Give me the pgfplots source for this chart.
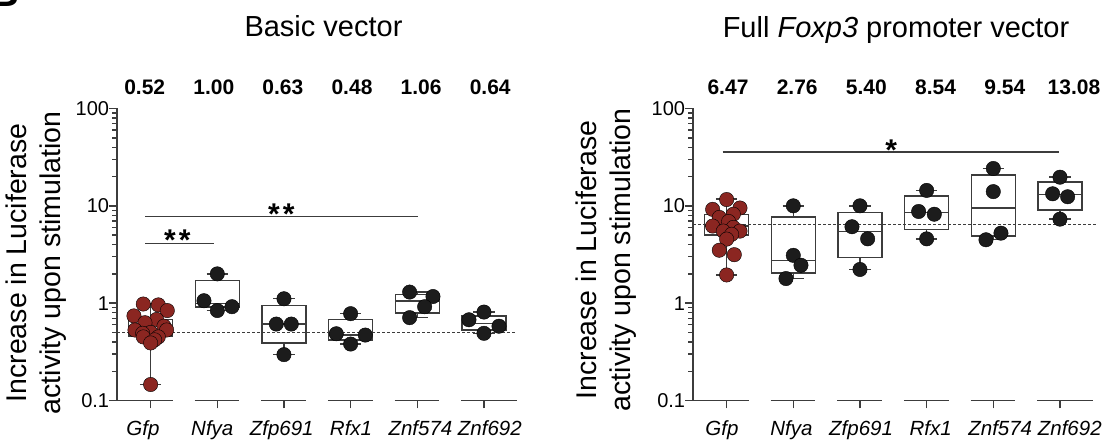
\documentclass[border=0pt]{standalone}
\usepackage{fontspec}
\setmainfont{Liberation Sans}
\usepackage{pgfplots}
\pgfplotsset{compat=1.18}
\definecolor{axisgray}{RGB}{60,60,60}
\definecolor{gfpred}{RGB}{139,38,33}
\definecolor{dotblack}{RGB}{28,28,28}

\pgfplotsset{
  boxst/.style={draw=axisgray, line width=1.4pt, fill=white, solid, mark=none},
  wst/.style={draw=axisgray, line width=1.4pt, solid, mark=none},
  gdot/.style={only marks, mark=*, mark size=7.2pt, mark options={draw=none, fill=gfpred}},
  bdot/.style={only marks, mark=*, mark size=7.2pt, mark options={draw=none, fill=dotblack}},
  refline/.style={draw=axisgray, line width=1.2pt, dash pattern=on 3pt off 2pt, mark=none},
  sigline/.style={draw=axisgray, line width=1.5pt, mark=none},
}
% box: center, lower whisker, lower quartile, median, upper quartile, upper whisker
\newcommand{\bx}[6]{%
  \pgfmathsetmacro{\xa}{#1-0.33}\pgfmathsetmacro{\xb}{#1+0.33}%
  \pgfmathsetmacro{\ca}{#1-0.16}\pgfmathsetmacro{\cb}{#1+0.16}%
  \addplot[wst] coordinates {(#1,#2) (#1,#3)};
  \addplot[wst] coordinates {(#1,#5) (#1,#6)};
  \addplot[wst] coordinates {(\ca,#2) (\cb,#2)};
  \addplot[wst] coordinates {(\ca,#6) (\cb,#6)};
  \addplot[boxst] coordinates {(\xa,#3) (\xb,#3) (\xb,#5) (\xa,#5)} --cycle;
  \addplot[wst] coordinates {(\xa,#4) (\xb,#4)};
}
\newcommand{\segs}{%
  \draw[axisgray, line width=1.8pt] (axis cs:-0.5,0.1) -- (axis cs:0.33,0.1);
  \draw[axisgray, line width=1.8pt] (axis cs:0.66,0.1) -- (axis cs:1.33,0.1);
  \draw[axisgray, line width=1.8pt] (axis cs:1.66,0.1) -- (axis cs:2.33,0.1);
  \draw[axisgray, line width=1.8pt] (axis cs:2.66,0.1) -- (axis cs:3.33,0.1);
  \draw[axisgray, line width=1.8pt] (axis cs:3.66,0.1) -- (axis cs:4.33,0.1);
  \draw[axisgray, line width=1.8pt] (axis cs:4.66,0.1) -- (axis cs:5.5,0.1);}
\newcommand{\starfont}{\bfseries\fontsize{30}{30}\selectfont}

\begin{document}
\begin{tikzpicture}
\useasboundingbox (0,0) rectangle (1106pt,444pt);
\node[anchor=base west, inner sep=0pt] at (-10pt,437pt) {\bfseries\fontsize{40}{40}\selectfont B};

% ---------------- left panel ----------------
\begin{axis}[at={(117.3pt,43.5pt)}, anchor=south west,
    scale only axis, width=400pt, height=292pt,
    xmin=-0.5, xmax=5.5, ymode=log, ymin=0.1, ymax=100,
    axis x line*=bottom, axis y line*=left,
    axis line style={-, line width=1.8pt, draw=axisgray},
    x axis line style={draw=none},
    ytick={0.1,1,10,100}, yticklabels={0.1,1,10,100},
    minor ytick={0.2,0.3,0.4,0.5,0.6,0.7,0.8,0.9,2,3,4,5,6,7,8,9,20,30,40,50,60,70,80,90},
    tick align=outside, major tick length=8pt, minor tick length=5pt,
    tick style={draw=axisgray, line width=1.4pt},
    yticklabel style={font=\fontsize{20}{20}\selectfont, inner sep=0pt, text=black},
    xtick={0,1,2,3,4,5}, xticklabels={},
    extra x ticks={-0.115,0.925,1.966,3.006,4.047,5.088},
    extra x tick labels={Gfp,Nfya,Zfp691,Rfx1,Znf574,Znf692},
    extra x tick style={tick style={draw=none},
      xticklabel style={anchor=base, yshift=-27.5pt, font=\itshape\fontsize{20.5}{20}\selectfont, text=black}},
    ylabel={Increase in Luciferase\\activity upon stimulation},
    ylabel style={align=center, font=\fontsize{28.5}{34}\selectfont, anchor=center, at={(axis description cs:-0.2018,0.471)}},
    clip=false,
]
\bx{0}{0.146}{0.46}{0.52}{0.68}{0.98}
\bx{1}{0.84}{0.91}{0.99}{1.71}{2.0}
\bx{2}{0.296}{0.39}{0.61}{0.95}{1.11}
\bx{3}{0.38}{0.42}{0.47}{0.675}{0.78}
\bx{4}{0.71}{0.79}{1.05}{1.22}{1.30}
\bx{5}{0.49}{0.53}{0.62}{0.736}{0.81}
\addplot[refline] coordinates {(-0.5,0.5) (5.5,0.5)};
\addplot[gdot] coordinates {
 (-0.11,0.98) (0.115,0.96) (0.25,0.84) (-0.25,0.74) (0.09,0.68) (-0.085,0.63)
 (0.2,0.58) (-0.235,0.53) (0.24,0.53) (0.0,0.50) (-0.12,0.49) (-0.11,0.45)
 (0.115,0.45) (0.06,0.42) (0.0,0.39) (0.0,0.146)};
\addplot[bdot] coordinates {
 (1,2.0) (0.8,1.06) (1.22,0.92) (1,0.84)
 (2,1.11) (1.885,0.61) (2.11,0.61) (2,0.296)
 (3,0.78) (2.785,0.485) (3.22,0.47) (3,0.38)
 (3.885,1.30) (4.235,1.17) (4.11,0.92) (3.885,0.71)
 (5,0.81) (4.775,0.675) (5.225,0.58) (5,0.49)};
\addplot[sigline] coordinates {(-0.08,4.11) (0.95,4.11)};
\addplot[sigline] coordinates {(-0.08,7.77) (4.01,7.77)};
\node[anchor=base, inner sep=0pt] at (axis cs:0.4,3.45) {\starfont *\kern3pt*};
\node[anchor=base, inner sep=0pt] at (axis cs:1.96,6.48) {\starfont *\kern3pt*};
\segs
\end{axis}

% ---------------- right panel ----------------
\begin{axis}[at={(693.3pt,43.5pt)}, anchor=south west,
    scale only axis, width=400pt, height=292pt,
    xmin=-0.5, xmax=5.5, ymode=log, ymin=0.1, ymax=100,
    axis x line*=bottom, axis y line*=left,
    axis line style={-, line width=1.8pt, draw=axisgray},
    x axis line style={draw=none},
    ytick={0.1,1,10,100}, yticklabels={0.1,1,10,100},
    minor ytick={0.2,0.3,0.4,0.5,0.6,0.7,0.8,0.9,2,3,4,5,6,7,8,9,20,30,40,50,60,70,80,90},
    tick align=outside, major tick length=8pt, minor tick length=5pt,
    tick style={draw=axisgray, line width=1.4pt},
    yticklabel style={font=\fontsize{20}{20}\selectfont, inner sep=0pt, text=black},
    xtick={0,1,2,3,4,5}, xticklabels={},
    extra x ticks={-0.07,0.973,2.017,3.06,4.104,5.147},
    extra x tick labels={Gfp,Nfya,Zfp691,Rfx1,Znf574,Znf692},
    extra x tick style={tick style={draw=none},
      xticklabel style={anchor=base, yshift=-27.5pt, font=\itshape\fontsize{20.5}{20}\selectfont, text=black}},
    ylabel={Increase in Luciferase\\activity upon stimulation},
    ylabel style={align=center, font=\fontsize{28.5}{34}\selectfont, anchor=center, at={(axis description cs:-0.218,0.481)}},
    clip=false,
]
\bx{0}{1.95}{5.03}{6.2}{8.2}{11.7}
\bx{1}{1.79}{2.05}{2.75}{7.7}{10.0}
\bx{2}{2.22}{2.94}{5.44}{8.55}{10.0}
\bx{3}{4.58}{5.74}{8.55}{12.6}{14.4}
\bx{4}{4.48}{4.88}{9.47}{20.7}{24.2}
\bx{5}{7.3}{9.04}{13.1}{17.5}{19.7}
\addplot[refline] coordinates {(-0.5,6.47) (5.55,6.47)};
\addplot[gdot] coordinates {
 (0,11.6) (-0.21,9.2) (0.2,9.5) (0.1,8.2) (-0.11,7.6) (0.03,6.9) (-0.21,6.2)
 (0.1,6.0) (0.2,5.5) (-0.05,5.5) (0.075,5.1) (0,4.55) (-0.11,3.5) (0.115,3.15) (0,1.95)};
\addplot[bdot] coordinates {
 (1,10.0) (1,3.1) (1.115,2.45) (0.89,1.79)
 (2,10.0) (1.88,6.1) (2.115,4.58) (2,2.22)
 (3,14.4) (2.88,8.75) (3.115,8.2) (3,4.58)
 (4,24.2) (4,14.0) (4.115,5.24) (3.89,4.48)
 (5,19.7) (4.89,13.3) (5.115,12.4) (5,7.3)};
\addplot[sigline] coordinates {(-0.06,35.7) (4.99,35.7)};
\node[anchor=base, inner sep=0pt] at (axis cs:2.47,29.1) {\starfont *};
\segs
\end{axis}

% ---------------- titles and values ----------------
\node[anchor=base] at (323.5pt,407pt) {\fontsize{29}{29}\selectfont Basic vector};
\node[anchor=base] at (896pt,406.5pt) {\fontsize{29}{29}\selectfont Full \textit{Foxp3} promoter vector};
\foreach \v [count=\i from 0] in {0.52,1.00,0.63,0.48,1.06,0.64}
  \node[anchor=base] at ({144.7pt+69.1pt*\i},349pt) {\bfseries\fontsize{21}{21}\selectfont \v};
\foreach \v [count=\i from 0] in {6.47,2.76,5.40,8.54,9.54,13.08}
  \node[anchor=base] at ({728pt+69.2pt*\i},349pt) {\bfseries\fontsize{21}{21}\selectfont \v};
\end{tikzpicture}
\end{document}
